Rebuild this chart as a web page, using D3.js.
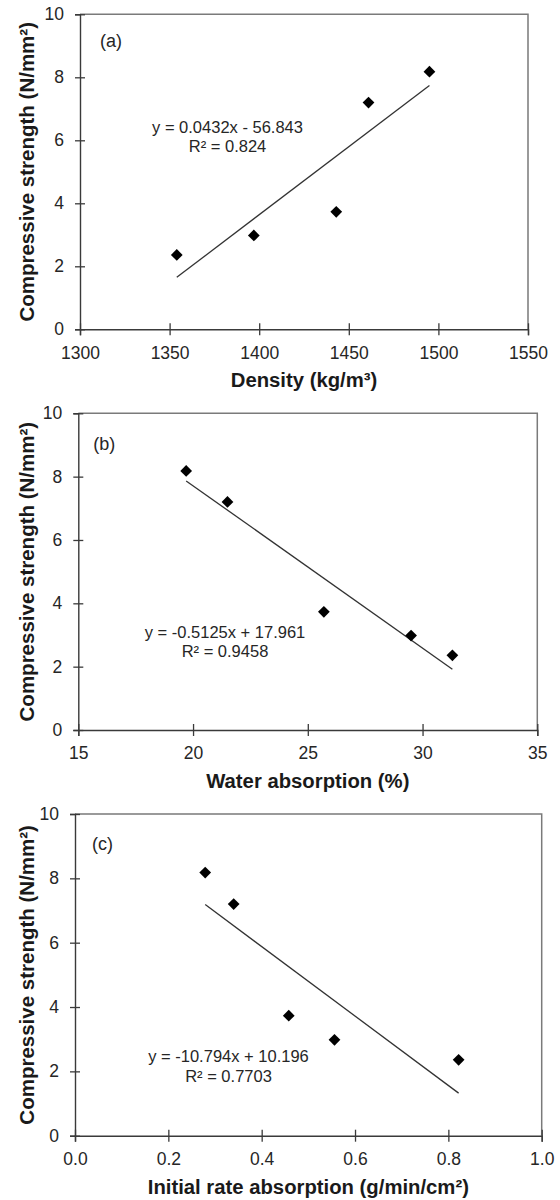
<!DOCTYPE html>
<html>
<head>
<meta charset="utf-8">
<script src="https://cdn.jsdelivr.net/npm/d3@7"></script>
<style>
  html, body { margin: 0; padding: 0; background: #fff; }
  svg { display: block; font-family: "Liberation Sans", Arial, sans-serif; }
</style>
</head>
<body>
<svg id="chart" width="560" height="1200"></svg>
<script>
// ---- data ----
const strength = [2.36, 2.98, 3.73, 7.2, 8.18];          // N/mm²
const density = [1354, 1397, 1443, 1461, 1495];          // kg/m³
const waterAbsorption = [31.3, 29.5, 25.7, 21.5, 19.7];  // %
const initialRate = [0.822, 0.556, 0.458, 0.34, 0.279];  // g/min/cm²

const panelLabels = ["(a)", "(b)", "(c)"];
const xTitles = ["Density (kg/m³)", "Water absorption (%)", "Initial rate absorption (g/min/cm²)"];
const yTitle = "Compressive strength (N/mm²)";
const xDomains = [[1300, 1550], [15, 35], [0, 1]];
const xTicks = [[1300, 1350, 1400, 1450, 1500, 1550], [15, 20, 25, 30, 35], [0, 0.2, 0.4, 0.6, 0.8, 1.0]];
const xFormats = ["d", "d", ".1f"];
const yTicks = [0, 2, 4, 6, 8, 10];
const slopes = [0.0432, -0.5125, -10.794];
const intercepts = [-56.843, 17.961, 10.196];
const eqTexts = ["y = 0.0432x - 56.843", "y = -0.5125x + 17.961", "y = -10.794x + 10.196"];
const r2Texts = ["R² = 0.824", "R² = 0.9458", "R² = 0.7703"];
const xSeries = [density, waterAbsorption, initialRate];

// ---- layout (pixels) ----
const frames = [
  { left: 80, right: 528, top: 14.3, bottom: 329.3, lab: [20, 33], eq: [147.5, 118.4, 137.4] },
  { left: 78.3, right: 537.3, top: 413.3, bottom: 730, lab: [15, 37], eq: [146.7, 225, 243.4] },
  { left: 75, right: 541.7, top: 814, bottom: 1135.7, lab: [17, 36], eq: [153.5, 247.7, 267.7] }
];

const svg = d3.select("#chart");
svg.append("rect").attr("width", 560).attr("height", 1200).attr("fill", "#fff");

const axisColor = "#3a3a3a";
const frameColor = "#7a7a7a";
const textColor = "#262626";

frames.forEach((f, i) => {
  const w = f.right - f.left, h = f.bottom - f.top;
  const g = svg.append("g").attr("transform", `translate(${f.left},${f.top})`);
  const x = d3.scaleLinear().domain(xDomains[i]).range([0, w]);
  const y = d3.scaleLinear().domain([0, 10]).range([h, 0]);

  // frame (top & right)
  g.append("path")
    .attr("d", `M0,0H${w}V${h}`)
    .attr("fill", "none").attr("stroke", frameColor).attr("stroke-width", 1.5);

  // y axis
  const ya = g.append("g")
    .call(d3.axisLeft(y).tickValues(yTicks).tickFormat(d3.format("d")).tickSize(5).tickPadding(11));
  ya.select(".domain").attr("stroke", axisColor).attr("stroke-width", 1.4);
  ya.selectAll(".tick line").attr("x1", 5).attr("x2", -5).attr("stroke", axisColor).attr("stroke-width", 1.3);
  ya.selectAll(".tick text").attr("font-size", 17.5).attr("fill", textColor)
    .attr("font-family", "Liberation Sans, Arial, sans-serif");

  // x axis
  const xa = g.append("g").attr("transform", `translate(0,${h})`)
    .call(d3.axisBottom(x).tickValues(xTicks[i]).tickFormat(d3.format(xFormats[i])).tickSize(6).tickPadding(11));
  xa.select(".domain").attr("stroke", axisColor).attr("stroke-width", 1.4);
  xa.selectAll(".tick line").attr("y1", -6).attr("y2", 6).attr("stroke", axisColor).attr("stroke-width", 1.3);
  xa.selectAll(".tick text").attr("font-size", 17.5).attr("fill", textColor)
    .attr("font-family", "Liberation Sans, Arial, sans-serif");

  // trend line from the fitted equation over the data range
  const ext = d3.extent(xSeries[i]);
  const fit = ext.map(v => [v, slopes[i] * v + intercepts[i]]);
  g.append("path")
    .attr("d", d3.line().x(d => x(d[0])).y(d => y(d[1]))(fit))
    .attr("fill", "none").attr("stroke", "#333").attr("stroke-width", 1.3);

  // points (diamonds)
  const sym = d3.symbol().type(d3.symbolDiamond2).size(88);
  g.selectAll("path.pt").data(xSeries[i].map((v, k) => [v, strength[k]]))
    .enter().append("path").attr("class", "pt")
    .attr("transform", d => `translate(${x(d[0])},${y(d[1])})`)
    .attr("d", sym).attr("fill", "#000");

  // panel label
  g.append("text").attr("x", f.lab[0]).attr("y", f.lab[1])
    .attr("font-size", 18).attr("fill", textColor).text(panelLabels[i]);

  // equation
  g.append("text").attr("x", f.eq[0]).attr("y", f.eq[1]).attr("text-anchor", "middle")
    .attr("font-size", 16.5).attr("fill", textColor).text(eqTexts[i]);
  g.append("text").attr("x", f.eq[0]).attr("y", f.eq[2]).attr("text-anchor", "middle")
    .attr("font-size", 16.5).attr("fill", textColor).text(r2Texts[i]);

  // axis titles
  g.append("text").attr("x", w / 2).attr("y", h + 58).attr("text-anchor", "middle")
    .attr("font-size", 20.3).attr("font-weight", "bold").attr("fill", "#1a1a1a").text(xTitles[i]);
  g.append("text")
    .attr("transform", `translate(${34 - f.left},${h / 2}) rotate(-90)`)
    .attr("text-anchor", "middle")
    .attr("font-size", 20.5).attr("font-weight", "bold").attr("fill", "#1a1a1a").text(yTitle);
});
</script>
</body>
</html>
